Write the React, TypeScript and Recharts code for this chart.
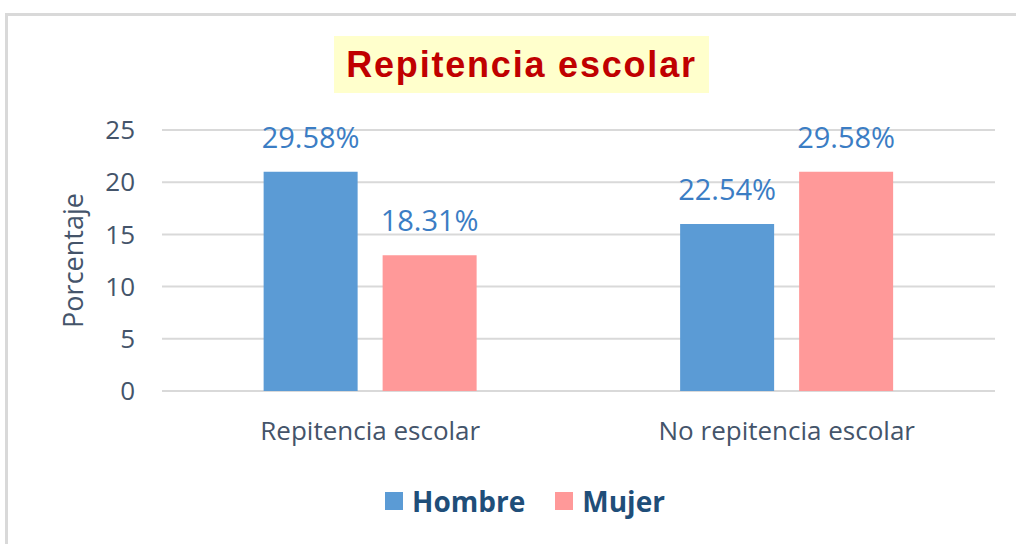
import { BarChart, Bar, XAxis, YAxis, CartesianGrid, Legend, LabelList } from "recharts";

const categories = ["Repitencia escolar", "No repitencia escolar"];
const hombreValues = [21, 16];
const mujerValues = [13, 21];
const hombreLabels = ["29.58%", "22.54%"];
const mujerLabels = ["18.31%", "29.58%"];
const yTicks = [0, 5, 10, 15, 20, 25];

const chartData = categories.map((category, i) => ({
  category,
  hombre: hombreValues[i],
  mujer: mujerValues[i],
  hombreLabel: hombreLabels[i],
  mujerLabel: mujerLabels[i],
}));

const font = "'Open Sans', sans-serif";
const axisColor = "#44546A";
const labelColor = "#3B7DC4";

function App() {
  return (
    <div style={{ position: "absolute", left: 0, top: 0, width: 1016, height: 544, background: "#fff", overflow: "hidden", fontFamily: font }}>
      <div style={{ position: "absolute", left: 5, top: 13, width: 1020, height: 540, borderTop: "3px solid #d9d9d9", borderLeft: "3px solid #d9d9d9" }} />
      <div
        style={{
          position: "absolute",
          left: 334,
          top: 36,
          width: 375,
          height: 57,
          background: "#FFFFCC",
          color: "#C00000",
          fontFamily: "'Liberation Sans', Arial, sans-serif",
          fontWeight: "bold",
          fontSize: 36,
          letterSpacing: 1.8,
          lineHeight: "57px",
          textAlign: "center",
        }}
      >
        Repitencia escolar
      </div>
      <BarChart
        width={1016}
        height={544}
        data={chartData}
        margin={{ top: 130, right: 21, bottom: 60, left: 0 }}
        barGap={25}
        barCategoryGap="24.4%"
        style={{ position: "absolute", left: 0, top: 0 }}
      >
        <CartesianGrid vertical={false} stroke="#d9d9d9" strokeWidth={2} />
        <XAxis
          dataKey="category"
          axisLine={false}
          tickLine={false}
          height={93}
          tickMargin={25}
          tick={{ fill: axisColor, fontSize: 26, fontFamily: font }}
        />
        <YAxis
          width={162}
          domain={[0, 25]}
          ticks={yTicks}
          axisLine={false}
          tickLine={false}
          tickMargin={21}
          tick={{ fill: axisColor, fontSize: 26, fontFamily: font }}
          label={{ value: "Porcentaje", angle: -90, position: "center", dx: -8, fill: axisColor, fontSize: 27, fontFamily: font }}
        />
        <Legend
          verticalAlign="middle"
          iconType="square"
          iconSize={18}
          wrapperStyle={{ top: 482, left: 32, width: 1016, fontFamily: font }}
          formatter={(value) => (
            <span style={{ color: "#1F4E79", fontWeight: "bold", fontSize: 28, marginLeft: 5, marginRight: 20, verticalAlign: "middle" }}>{value}</span>
          )}
        />
        <Bar dataKey="hombre" name="Hombre" fill="#5B9BD5" isAnimationActive={false}>
          <LabelList dataKey="hombreLabel" position="top" offset={24} fill={labelColor} fontSize={29} fontFamily={font} />
        </Bar>
        <Bar dataKey="mujer" name="Mujer" fill="#FF9999" isAnimationActive={false}>
          <LabelList dataKey="mujerLabel" position="top" offset={24} fill={labelColor} fontSize={29} fontFamily={font} />
        </Bar>
      </BarChart>
    </div>
  );
}

export default App;
